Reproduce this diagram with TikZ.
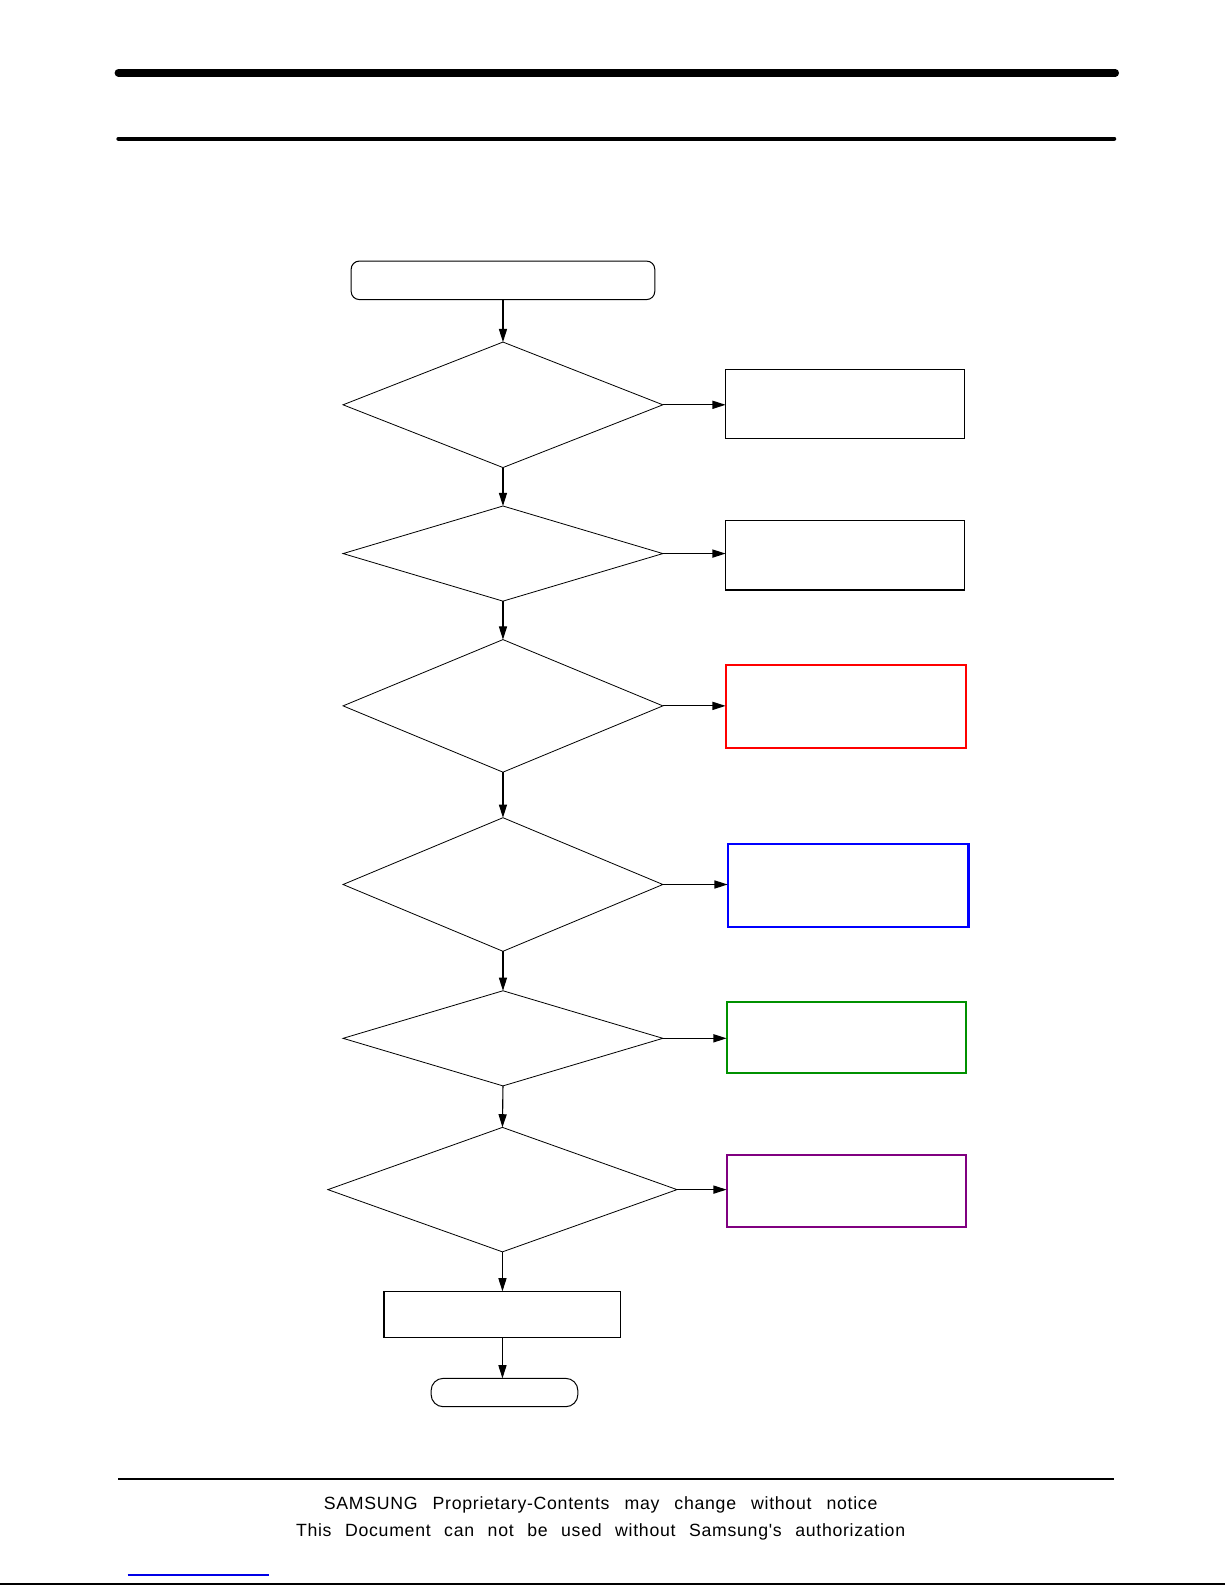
\documentclass[tikz,border=0pt]{standalone}
\usepackage{fontspec}
\setmainfont{Liberation Sans}
\newfontfamily\footfont[LetterSpace=4]{Liberation Sans}
\usetikzlibrary{shapes.geometric,arrows.meta}
\definecolor{boxred}{RGB}{255,0,0}
\definecolor{boxblue}{RGB}{0,0,255}
\definecolor{boxgreen}{RGB}{0,145,0}
\definecolor{boxpurple}{RGB}{128,0,128}
\definecolor{linkblue}{RGB}{0,0,230}
\begin{document}
\begin{tikzpicture}[x=1pt,y=-1pt,
  dia/.style={diamond,draw,line width=0.8pt,inner sep=0pt,outer sep=0pt},
  plainbox/.style={rectangle,draw,line width=1.2pt,inner sep=0pt,outer sep=0pt},
  colbox/.style={rectangle,draw=#1,line width=2pt,inner sep=0pt,outer sep=0pt},
  term/.style={rectangle,draw,line width=1pt,inner sep=0pt,outer sep=0pt},
  arr/.style={line width=1.1pt,-{Triangle[length=13pt,width=8pt]}},
  foot/.style={inner sep=0pt,anchor=base,font=\footfont\fontsize{17.5}{20}\selectfont}
]
\useasboundingbox (0,0) rectangle (1210.5,1566.2);
% header rules
\draw[line width=7.5pt,line cap=round] (117,72) -- (1102,72);
\draw[line width=4pt,line cap=round] (117,137) -- (1101,137);
% flow nodes
\node[term,rounded corners=8pt,minimum width=300pt,minimum height=38pt] (start) at (497,277) {};
\node[dia,minimum width=316pt,minimum height=124pt] (d1) at (497,400) {};
\node[dia,minimum width=316pt,minimum height=94pt] (d2) at (497,547) {};
\node[dia,minimum width=316pt,minimum height=131pt] (d3) at (497,697.5) {};
\node[dia,minimum width=316pt,minimum height=132pt] (d4) at (497,874) {};
\node[dia,minimum width=316pt,minimum height=94pt] (d5) at (497,1026) {};
\node[dia,minimum width=345pt,minimum height=123pt] (d6) at (496.5,1175.5) {};
\node[plainbox,minimum width=236pt,minimum height=68pt] (b1) at (835,399) {};
\node[plainbox,minimum width=236pt,minimum height=69pt] (b2) at (835,548.5) {};
\node[colbox=boxred,minimum width=238pt,minimum height=82pt] (b3) at (836,698) {};
\node[colbox=boxblue,minimum width=238pt,minimum height=82pt] (b4) at (838,875) {};
\node[colbox=boxgreen,minimum width=237pt,minimum height=70pt] (b5) at (836.5,1025) {};
\node[colbox=boxpurple,minimum width=237pt,minimum height=71pt] (b6) at (836.5,1176.5) {};
\node[plainbox,minimum width=234pt,minimum height=46pt] (r) at (496.5,1299) {};
\node[term,rounded corners=12pt,minimum width=145pt,minimum height=28pt] (stop) at (498.5,1376) {};
% vertical connectors
\draw[arr] (start.south) -- (d1.north);
\draw[arr] (d1.south) -- (d2.north);
\draw[arr] (d2.south) -- (d3.north);
\draw[arr] (d3.south) -- (d4.north);
\draw[arr] (d4.south) -- (d5.north);
\draw[arr] (d5.south) -- (d6.north);
\draw[arr] (d6.south) -- (d6.south |- r.north);
\draw[arr] (r.south) -- (r.south |- stop.north);
% horizontal connectors
\draw[arr] (d1.east) -- (d1.east -| b1.west);
\draw[arr] (d2.east) -- (d2.east -| b2.west);
\draw[arr] (d3.east) -- (d3.east -| b3.west);
\draw[arr] (d4.east) -- (d4.east -| b4.west);
\draw[arr] (d5.east) -- (d5.east -| b5.west);
\draw[arr] (d6.east) -- (d6.east -| b6.west);
% footer
\draw[line width=1.2pt] (117,1461.5) -- (1101,1461.5);
\node[foot] (f1) at (593.5,1492) {\makebox[547pt][s]{SAMSUNG Proprietary-Contents may change without notice}};
\node[foot] (f2) at (593.5,1518) {\makebox[602pt][s]{This Document can not be used without Samsung's authorization}};
\draw[linkblue,line width=1.6pt] (126,1556) -- (266,1556);
\draw[line width=2pt] (0,1565) -- (1210.5,1565);
\end{tikzpicture}
\end{document}
